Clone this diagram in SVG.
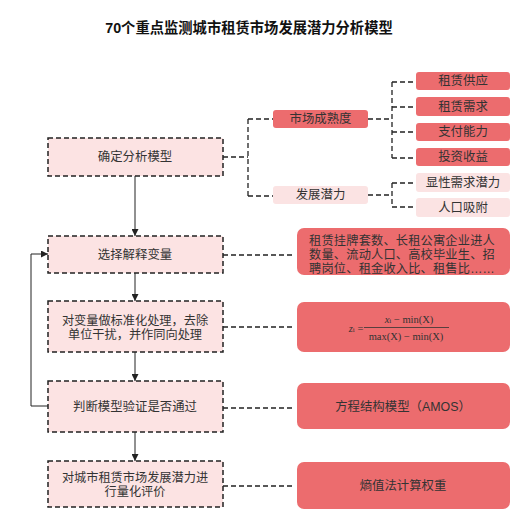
<svg xmlns="http://www.w3.org/2000/svg" width="525" height="529" viewBox="0 0 525 529">
<defs>
<marker id="ah" viewBox="0 0 10 10" refX="10" refY="5" markerWidth="7" markerHeight="7" orient="auto" markerUnits="userSpaceOnUse"><path d="M0,0 L10,5 L0,10 z" fill="#222"/></marker>
</defs>
<style>
text{font-family:"Liberation Sans","Noto Sans CJK SC",sans-serif;fill:#333;font-size:12.4px;text-anchor:middle;dominant-baseline:central}
.title{font-size:14.3px;font-weight:bold;fill:#111}
.ml{font-size:12.2px}
.step{fill:#fce3e3;stroke:#222;stroke-width:1.5;stroke-dasharray:5,3}
.red{fill:#ec6c6e}
.pink{fill:#fbe3e3}
.dash{fill:none;stroke:#222;stroke-width:1.3;stroke-dasharray:5,3}
.solid{fill:none;stroke:#222;stroke-width:1}
.math{font-family:"Liberation Serif",serif;font-size:10.5px;fill:#333}
</style>
<rect width="525" height="529" fill="#fff"/>
<text class="title" x="249" y="28">70个重点监测城市租赁市场发展潜力分析模型</text>

<g id="connectors">
<path class="dash" d="M223,157 H248 M248,119 V196 M248,119 H273 M248,196 H273"/>
<path class="dash" d="M368,119 H392 M392,82 V158 M392,82 H416 M392,107 H416 M392,132 H416 M392,158 H416"/>
<path class="dash" d="M368,195 H392 M392,183 V207 M392,183 H416 M392,207 H416"/>
<path class="dash" d="M223,255 H295 M223,327 H295 M223,408 H295 M223,486 H295"/>
<path class="solid" marker-end="url(#ah)" d="M135,176 V236"/>
<path class="solid" marker-end="url(#ah)" d="M135,273 V301"/>
<path class="solid" marker-end="url(#ah)" d="M135,352 V381"/>
<path class="solid" marker-end="url(#ah)" d="M135,432 V461"/>
<path class="solid" marker-end="url(#ah)" d="M48,406 H31 V254 H48"/>
</g>

<g id="n-model"><rect class="step" x="48" y="138" width="175" height="38"/><text x="135" y="157">确定分析模型</text></g>
<g id="n-select"><rect class="step" x="48" y="236" width="175" height="37"/><text x="135" y="255">选择解释变量</text></g>
<g id="n-norm"><rect class="step" x="48" y="301" width="175" height="51"/><text class="ml" x="135" y="320.5">对变量做标准化处理，去除<tspan x="135" dy="14">单位干扰，并作同向处理</tspan></text></g>
<g id="n-judge"><rect class="step" x="48" y="381" width="175" height="51"/><text x="135" y="407">判断模型验证是否通过</text></g>
<g id="n-eval"><rect class="step" x="48" y="461" width="175" height="46"/><text class="ml" x="135" y="477.5">对城市租赁市场发展潜力进<tspan x="135" dy="14">行量化评价</tspan></text></g>

<g id="n-maturity"><rect class="red" x="273" y="110" width="95" height="18" rx="3"/><text x="320.5" y="119">市场成熟度</text></g>
<g id="n-potential"><rect class="pink" x="273" y="186" width="95" height="18" rx="3"/><text x="320.5" y="195">发展潜力</text></g>

<g id="n-supply"><rect class="red" x="416" y="72" width="94" height="18" rx="3"/><text x="463" y="81">租赁供应</text></g>
<g id="n-demand"><rect class="red" x="416" y="97" width="94" height="19" rx="3"/><text x="463" y="106.5">租赁需求</text></g>
<g id="n-pay"><rect class="red" x="416" y="123" width="94" height="18" rx="3"/><text x="463" y="132">支付能力</text></g>
<g id="n-invest"><rect class="red" x="416" y="148" width="94" height="18" rx="3"/><text x="463" y="157">投资收益</text></g>
<g id="n-explicit"><rect class="pink" x="416" y="173" width="94" height="19" rx="3"/><text x="463" y="182.5">显性需求潜力</text></g>
<g id="n-pop"><rect class="pink" x="416" y="198" width="94" height="19" rx="3"/><text x="463" y="207.5">人口吸附</text></g>

<g id="n-vars"><rect class="red" x="297" y="228" width="213" height="47" rx="7"/>
<text class="ml" x="402" y="241" style="letter-spacing:0.2px">租赁挂牌套数、长租公寓企业进人<tspan x="402" dy="13.8">数量、流动人口、高校毕业生、招</tspan><tspan x="402" dy="13.8">聘岗位、租金收入比、租售比……</tspan></text></g>

<g id="n-formula"><rect class="red" x="297" y="302" width="213" height="50" rx="7"/>
<text class="math" x="356" y="328"><tspan font-style="italic">z</tspan><tspan font-size="7" dy="2">i</tspan><tspan dy="-2"> =</tspan></text>
<text class="math" x="409" y="319"><tspan font-style="italic">x</tspan><tspan font-size="7" dy="2">i</tspan><tspan dy="-2"> − min(X)</tspan></text>
<line x1="364" y1="327.5" x2="449" y2="327.5" stroke="#333" stroke-width="0.8"/>
<text class="math" x="406" y="336.5">max(X) − min(X)</text></g>

<g id="n-amos"><rect class="red" x="297" y="383" width="213" height="46" rx="7"/><text x="403" y="407">方程结构模型（AMOS）</text></g>
<g id="n-entropy"><rect class="red" x="297" y="462" width="213" height="47" rx="7"/><text x="403" y="486">熵值法计算权重</text></g>
</svg>
